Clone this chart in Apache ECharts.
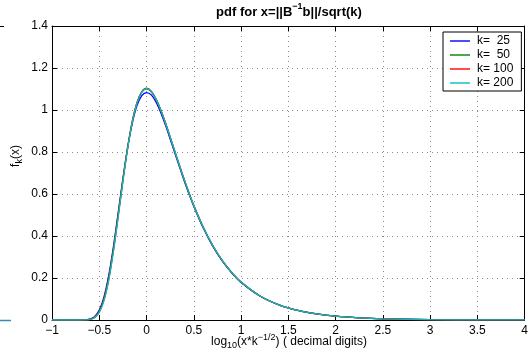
<!DOCTYPE html>
<html>
<head>
<meta charset="utf-8">
<script src="https://cdn.jsdelivr.net/npm/echarts@6/dist/echarts.min.js"></script>
<style>
html,body{margin:0;padding:0;background:#fff;}
#c{width:531px;height:358px;}
</style>
</head>
<body>
<div id="c"></div>
<script>
// x positions (log10 of x*k^-1/2)
var xs = [-1,-0.9,-0.8,-0.75,-0.7,-0.65,-0.6,-0.55,-0.5,-0.45,-0.4,-0.35,-0.3,-0.25,-0.2,-0.15,-0.1,-0.05,0,0.05,0.1,0.15,0.2,0.25,0.3,0.35,0.4,0.45,0.5,0.6,0.7,0.8,0.9,1.0,1.2,1.4,1.6,1.8,2.0,2.25,2.5,3.0,3.5,4.0];
var k25  = [0,0,0,0,0.0001,0.0007,0.0040,0.0160,0.0470,0.1100,0.2120,0.3500,0.5100,0.6720,0.8200,0.9380,1.0220,1.0680,1.0830,1.0720,1.0380,0.9880,0.9280,0.8620,0.7940,0.7270,0.6610,0.5990,0.5410,0.4380,0.3520,0.2820,0.2250,0.1790,0.1140,0.0720,0.0455,0.0288,0.0182,0.0103,0.0058,0.0019,0.0006,0.0002];
var k50  = [0,0,0,0,0,0.0005,0.0032,0.0135,0.0420,0.1020,0.2020,0.3400,0.5020,0.6700,0.8230,0.9480,1.0370,1.0880,1.1040,1.0900,1.0530,1.0010,0.9390,0.8710,0.8020,0.7330,0.6670,0.6040,0.5455,0.4413,0.3546,0.2838,0.2265,0.1804,0.1143,0.0722,0.0455,0.0287,0.0181,0.0102,0.0057,0.0018,0.0006,0.0002];
var k100 = [0,0,0,0,0,0.0004,0.0026,0.0119,0.0386,0.0963,0.1943,0.3314,0.4943,0.6636,0.8188,0.9453,1.0342,1.0846,1.1002,1.0868,1.0510,0.9995,0.9380,0.8709,0.8020,0.7334,0.6672,0.6044,0.5457,0.4415,0.3548,0.2839,0.2266,0.1805,0.1143,0.0722,0.0455,0.0287,0.0181,0.0102,0.0057,0.0018,0.0006,0.0002];
var k200 = [0,0,0,0,0,0.0003,0.0022,0.0108,0.0360,0.0920,0.1890,0.3260,0.4890,0.6590,0.8150,0.9430,1.0330,1.0850,1.1020,1.0890,1.0520,1.0000,0.9385,0.8712,0.8022,0.7335,0.6673,0.6045,0.5458,0.4416,0.3549,0.2840,0.2267,0.1806,0.1144,0.0722,0.0455,0.0287,0.0181,0.0102,0.0057,0.0018,0.0006,0.0002];
var seriesNames = ['k=  25','k=  50','k= 100','k= 200'];
var seriesData = [k25, k50, k100, k200];
var seriesColors = ['#0000ff','#008000','#ff0000','#00bfbf'];

var FONT = '"Liberation Sans", Arial, Helvetica, sans-serif';
function pair(ys){ return xs.map(function(x,i){ return [x, ys[i]]; }); }
function minus(v){ return String(v).replace('-', '\u2212'); }

var chart = echarts.init(document.getElementById('c'), null, {renderer:'canvas'});
var gridLine = {show:true, lineStyle:{color:'#8a8a8a', type:[1,4], width:1}};
var axisLine = {show:true, onZero:false, lineStyle:{color:'#000', width:1}};
var tick = {show:true, inside:true, length:5, lineStyle:{color:'#000'}};
var option = {
  animation:false,
  backgroundColor:'#fff',
  grid:{left:52, right:5, top:26, bottom:38, containLabel:false},
  xAxis:[
    {type:'value', min:-1, max:4, interval:0.5, position:'bottom',
     axisLine:axisLine, axisTick:tick, splitLine:gridLine,
     axisLabel:{color:'#000', fontSize:12, fontFamily:FONT, margin:5, formatter:function(v){return minus(v);} }},
    {type:'value', min:-1, max:4, interval:0.5, position:'top',
     axisLine:axisLine, axisTick:tick, splitLine:{show:false}, axisLabel:{show:false}}
  ],
  yAxis:[
    {type:'value', min:0, max:1.4, interval:0.2, position:'left',
     axisLine:axisLine, axisTick:tick, splitLine:gridLine,
     axisLabel:{color:'#000', fontSize:12, fontFamily:FONT, margin:4, formatter:function(v){return minus(+v.toFixed(1));} }},
    {type:'value', min:0, max:1.4, interval:0.2, position:'right',
     axisLine:axisLine, axisTick:tick, splitLine:{show:false}, axisLabel:{show:false}}
  ],
  legend:{
    orient:'vertical', left:443, top:32,
    itemWidth:20, itemHeight:1.4, itemGap:2, icon:'rect',
    padding:[3,8,2,7],
    backgroundColor:'#fff', borderColor:'#000', borderWidth:1, borderRadius:0,
    textStyle:{color:'#000', fontSize:12, fontFamily:FONT, lineHeight:12, padding:[0,0,0,2]},
    data:seriesNames
  },
  series: seriesNames.map(function(n,i){
    return {name:n, type:'line', data:pair(seriesData[i]), showSymbol:false, symbol:'none',
      smooth:0.3, color:seriesColors[i],
      lineStyle:{color:seriesColors[i], width:1.3}, z:2+i};
  }),
  graphic:[
    {type:'text', x:289, y:12, z:10,
     style:{text:'{a|pdf for x=||B}{s|\u22121}{a|b||/sqrt(k)}', align:'center', verticalAlign:'middle',
       rich:{a:{fontSize:13, fontWeight:'bold', fontFamily:FONT, fill:'#000', verticalAlign:'middle'},
             s:{fontSize:9, fontWeight:'bold', fontFamily:FONT, fill:'#000', verticalAlign:'middle', padding:[0,0,10,0]}}}},
    {type:'text', x:289, y:342, z:10,
     style:{text:'{a|log}{b|10}{a|(x*k}{s|\u22121/2}{a|) ( decimal digits)}', align:'center', verticalAlign:'middle',
       rich:{a:{fontSize:12, fontFamily:FONT, fill:'#000', verticalAlign:'middle'},
             b:{fontSize:9, fontFamily:FONT, fill:'#000', verticalAlign:'middle', padding:[8,0,0,0]},
             s:{fontSize:9, fontFamily:FONT, fill:'#000', verticalAlign:'middle', padding:[0,0,8,0]}}}},
    {type:'text', x:16, y:156, rotation:Math.PI/2, z:10,
     style:{text:'{a|f}{b|k}{a|(x)}', align:'center', verticalAlign:'middle',
       rich:{a:{fontSize:12, fontFamily:FONT, fill:'#000', verticalAlign:'middle'},
             b:{fontSize:9, fontFamily:FONT, fill:'#000', verticalAlign:'middle', padding:[7,0,0,0]}}}},
    {type:'line', shape:{x1:0, y1:320.5, x2:11, y2:320.5}, style:{stroke:'#2a8fb0', lineWidth:1.5}},
    {type:'line', shape:{x1:0, y1:26.5, x2:4, y2:26.5}, style:{stroke:'#000', lineWidth:1}}
  ]
};
chart.setOption(option);
</script>
</body>
</html>
